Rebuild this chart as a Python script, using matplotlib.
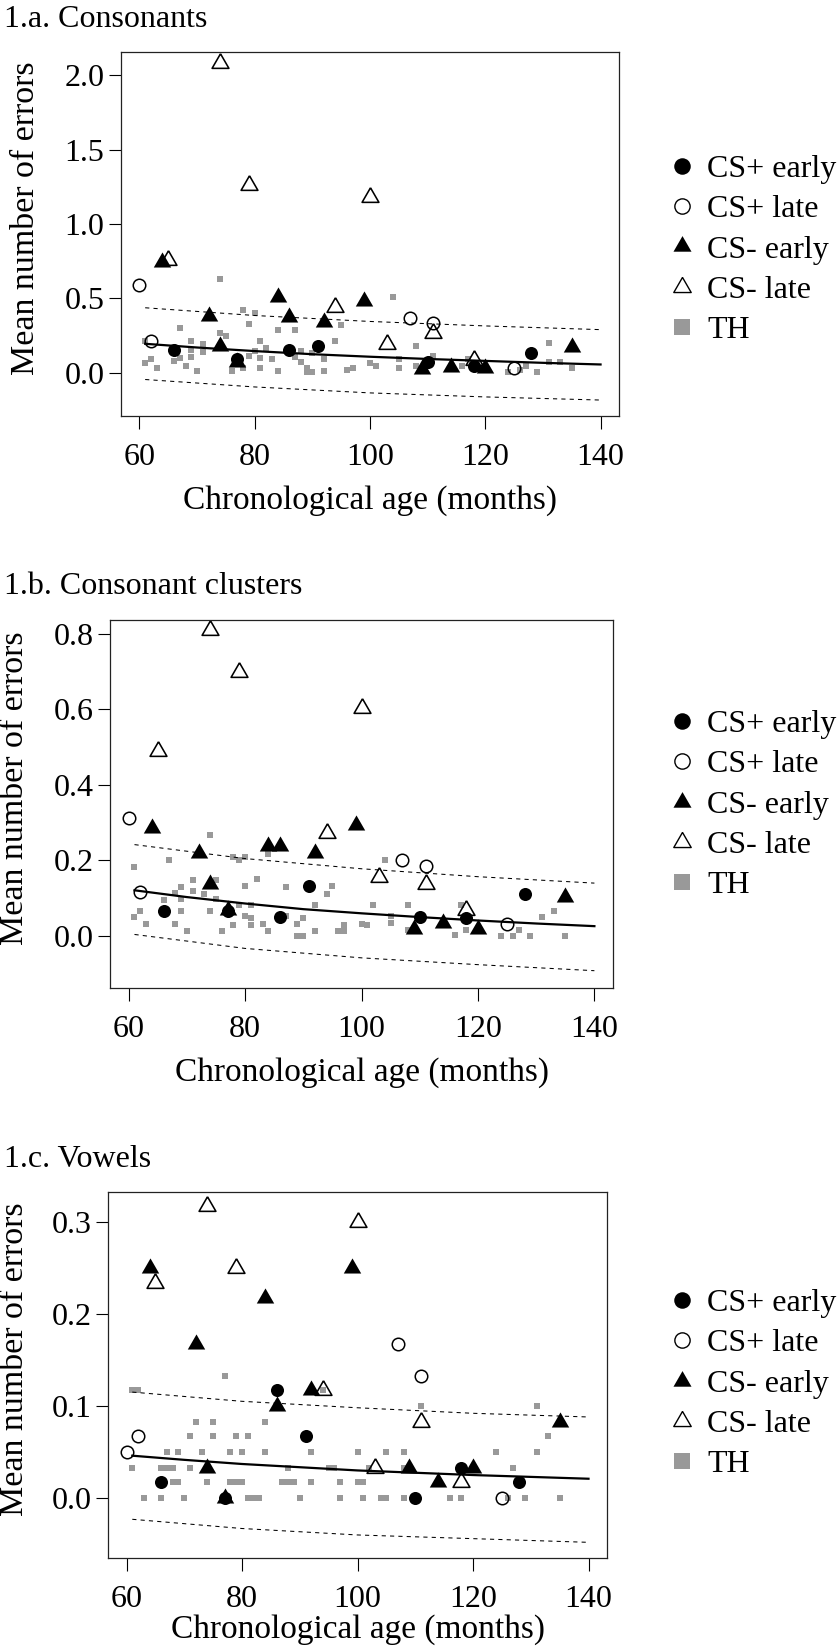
import numpy as np
import matplotlib.pyplot as plt
from matplotlib.lines import Line2D

plt.rcParams['font.family'] = ['Liberation Serif', 'DejaVu Serif']

# ages of the CS groups (same children in every panel)
csp_early_age = [66, 77, 86, 91, 110, 118, 128]
csp_late_age = [60, 62, 107, 111, 125]
csm_early_age = [64, 72, 74, 77, 84, 86, 92, 99, 109, 114, 120, 135]
csm_late_age = [65, 74, 79, 94, 100, 103, 111, 118]

# ---- 1.a consonants
cons_csp_early = [0.15, 0.095, 0.15, 0.18, 0.07, 0.045, 0.13]
cons_csp_late = [0.59, 0.215, 0.365, 0.335, 0.03]
cons_csm_early = [0.745, 0.38, 0.18, 0.075, 0.51, 0.375, 0.34, 0.485, 0.025, 0.04, 0.03, 0.175]
cons_csm_late = [0.76, 2.08, 1.26, 0.445, 1.18, 0.195, 0.265, 0.085]
cons_th_age = [74, 104, 78, 80, 79, 67, 84, 87, 95, 74, 75, 81, 94, 108, 131, 69, 71, 61,
               69, 71, 80, 82, 88, 90,
               62, 67, 69, 79, 81, 83, 87, 92, 100, 101, 105, 111, 117,
               61, 66, 68, 81, 88, 89, 96, 97, 108, 116, 131, 133, 135, 127,
               63, 70, 76, 78, 84, 89, 90, 92, 105, 124, 126, 129]
cons_th = [0.63, 0.51, 0.42, 0.405, 0.33, 0.30, 0.285, 0.29, 0.32, 0.265, 0.25, 0.215, 0.215, 0.18, 0.20, 0.215, 0.195, 0.215,
           0.15, 0.14, 0.145, 0.17, 0.145, 0.13,
           0.095, 0.10, 0.105, 0.115, 0.10, 0.095, 0.105, 0.09, 0.065, 0.045, 0.09, 0.115, 0.095,
           0.065, 0.08, 0.045, 0.035, 0.075, 0.035, 0.02, 0.03, 0.045, 0.045, 0.07, 0.07, 0.035, 0.045,
           0.035, 0.015, 0.01, 0.03, 0.01, 0.005, 0.005, 0.01, 0.035, 0.005, 0.02, 0.005]
fit_age = [61, 70, 80, 90, 100, 110, 120, 130, 140]
cons_fit = [0.195, 0.170, 0.146, 0.125, 0.108, 0.093, 0.080, 0.067, 0.056]
band_age = [61, 80, 100, 120, 140]
cons_hi = [0.437, 0.385, 0.345, 0.315, 0.29]
cons_lo = [-0.045, -0.095, -0.135, -0.162, -0.183]

# ---- 1.b consonant clusters
clus_csp_early = [0.065, 0.065, 0.049, 0.132, 0.049, 0.048, 0.112]
clus_csp_late = [0.313, 0.116, 0.20, 0.186, 0.032]
clus_csm_early = [0.286, 0.22, 0.138, 0.068, 0.237, 0.237, 0.22, 0.293, 0.019, 0.034, 0.019, 0.102]
clus_csm_late = [0.49, 0.81, 0.70, 0.273, 0.605, 0.155, 0.138, 0.07]
clus_th_age = [74, 104, 61, 67, 78, 80, 79, 84, 71, 69, 75, 80, 82, 87, 95, 94, 68, 71, 73,
               66, 69, 75, 79, 81, 92, 102, 108, 117, 62, 69, 74, 80, 81, 61, 87, 90, 105, 105,
               131, 133, 63, 68, 78, 81, 83, 89, 97, 100, 101, 127, 70, 76, 84, 92, 96, 97,
               116, 89, 90, 124, 126, 129, 135, 118, 108]
clus_th = [0.267, 0.202, 0.182, 0.20, 0.21, 0.21, 0.20, 0.218, 0.147, 0.129, 0.147, 0.132, 0.151, 0.129, 0.132, 0.111, 0.114, 0.118, 0.111,
           0.096, 0.099, 0.099, 0.083, 0.083, 0.081, 0.081, 0.081, 0.083, 0.067, 0.065, 0.065, 0.052, 0.048, 0.049, 0.052, 0.048, 0.052, 0.034,
           0.049, 0.065, 0.032, 0.032, 0.030, 0.030, 0.032, 0.032, 0.030, 0.032, 0.030, 0.017, 0.014, 0.014, 0.014, 0.014, 0.014, 0.014,
           0.002, 0.0, 0.0, 0.0, 0.0, 0.0, 0.0, 0.017, 0.017]
clus_fit = [0.121, 0.103, 0.086, 0.071, 0.060, 0.050, 0.041, 0.033, 0.026]
clus_hi = [0.242, 0.205, 0.178, 0.157, 0.14]
clus_lo = [0.004, -0.033, -0.058, -0.076, -0.092]

# ---- 1.c vowels
vow_csp_early = [0.017, 0.0, 0.117, 0.067, 0.0, 0.033, 0.017]
vow_csp_late = [0.05, 0.067, 0.167, 0.133, 0.0]
vow_csm_early = [0.25, 0.167, 0.033, 0.0, 0.217, 0.10, 0.117, 0.25, 0.033, 0.017, 0.033, 0.083]
vow_csm_late = [0.233, 0.317, 0.25, 0.117, 0.30, 0.033, 0.083, 0.017]
vow_th_age = [77, 61, 62, 94, 111, 131, 72, 75, 84, 71, 75, 79, 81, 133,
              67, 69, 73, 78, 80, 84, 92, 100, 105, 108, 124, 131,
              61, 66, 67, 68, 71, 88, 95, 96, 102, 108, 127,
              68, 69, 74, 78, 79, 80, 87, 88, 89, 92, 97, 100, 101,
              63, 66, 70, 77, 81, 82, 83, 90, 97, 101, 104, 105, 108, 116, 118, 126, 129, 135]
vow_th = [0.133, 0.117, 0.117, 0.117, 0.10, 0.10, 0.083, 0.083, 0.083, 0.067, 0.067, 0.067, 0.067, 0.067,
          0.05, 0.05, 0.05, 0.05, 0.05, 0.05, 0.05, 0.05, 0.05, 0.05, 0.05, 0.05,
          0.033, 0.033, 0.033, 0.033, 0.033, 0.033, 0.033, 0.033, 0.033, 0.033, 0.033,
          0.017, 0.017, 0.017, 0.017, 0.017, 0.017, 0.017, 0.017, 0.017, 0.017, 0.017, 0.017, 0.017,
          0, 0, 0, 0, 0, 0, 0, 0, 0, 0, 0, 0, 0, 0, 0, 0, 0, 0]
vow_fit = [0.046, 0.0415, 0.037, 0.0335, 0.030, 0.0275, 0.025, 0.023, 0.021]
vow_hi = [0.115, 0.105, 0.098, 0.092, 0.088]
vow_lo = [-0.023, -0.033, -0.040, -0.044, -0.048]

tri = [(0, 1), (-0.866, -0.5), (0.866, -0.5), (0, 1)]
grey = '#999999'

panels = [
    dict(title='1.a. Consonants', rect=[0.1440, 0.7482, 0.5929, 0.2203], ylim=(-0.29, 2.155),
         yt=[0, 0.5, 1.0, 1.5, 2.0], th=(cons_th_age, cons_th),
         g=(cons_csp_early, cons_csp_late, cons_csm_early, cons_csm_late),
         fit=cons_fit, hi=cons_hi, lo=cons_lo, ty=27, ly=250, ylx=-0.191, xly=69),
    dict(title='1.b. Consonant clusters', rect=[0.1310, 0.4019, 0.5988, 0.2228], ylim=(-0.138, 0.837),
         yt=[0, 0.2, 0.4, 0.6, 0.8], th=(clus_th_age, clus_th),
         g=(clus_csp_early, clus_csp_late, clus_csm_early, clus_csm_late),
         fit=clus_fit, hi=clus_hi, lo=clus_lo, ty=594, ly=805, ylx=-0.189, xly=69),
    dict(title='1.c. Vowels', rect=[0.1286, 0.0569, 0.5940, 0.2215], ylim=(-0.065, 0.332),
         yt=[0, 0.1, 0.2, 0.3], th=(vow_th_age, vow_th),
         g=(vow_csp_early, vow_csp_late, vow_csm_early, vow_csm_late),
         fit=vow_fit, hi=vow_hi, lo=vow_lo, ty=1167, ly=1384, ylx=-0.186, xly=56),
]

fig = plt.figure(figsize=(8.4, 16.52), dpi=100)
H = 1652.0

for p in panels:
    ax = fig.add_axes(p['rect'])
    ax.plot(p['th'][0], p['th'][1], ls='none', marker='s', ms=4.5, mfc=grey, mec=grey, mew=0)
    a, b, c, d = p['g']
    ax.plot(csp_early_age, a, ls='none', marker='o', ms=9.4, mfc='black', mec='black', mew=0)
    ax.plot(csp_late_age, b, ls='none', marker='o', ms=9.0, mfc='none', mec='black', mew=1.1)
    ax.plot(csm_early_age, c, ls='none', marker=tri, ms=14.5, mfc='black', mec='black', mew=0)
    ax.plot(csm_late_age, d, ls='none', marker=tri, ms=14, mfc='none', mec='black', mew=1.15)
    ax.plot(fit_age, p['fit'], color='black', lw=1.6)
    ax.plot(band_age, p['hi'], color='black', lw=0.75, dashes=(4, 4))
    ax.plot(band_age, p['lo'], color='black', lw=0.75, dashes=(4, 4))

    ax.set_xlim(56.8, 143.2)
    ax.set_ylim(*p['ylim'])
    ax.set_xticks([60, 80, 100, 120, 140])
    ax.set_yticks(p['yt'])
    ax.set_yticklabels(['%.1f' % v for v in p['yt']])
    ax.tick_params(direction='out', length=9, width=0.8, labelsize=23)
    ax.tick_params(axis='x', pad=10.5)
    ax.tick_params(axis='y', pad=3)
    for s in ax.spines.values():
        s.set_linewidth(0.9)
        s.set_color('#222222')

    h = p['rect'][3] * H
    ax.set_xlabel('Chronological age (months)', fontsize=24)
    ax.xaxis.set_label_coords(0.5, -p['xly'] / h)
    ax.set_ylabel('Mean number of errors', fontsize=24.5, va='center')
    ax.yaxis.set_label_coords(p['ylx'], 0.5 + 16 / h)

    fig.text(4 / 840, 1 - p['ty'] / H, p['title'], fontsize=23, va='baseline', ha='left')

    handles = [
        Line2D([], [], ls='none', marker='o', ms=11.9, mfc='black', mec='black', mew=0),
        Line2D([], [], ls='none', marker='o', ms=11.0, mfc='none', mec='black', mew=1.0),
        Line2D([], [], ls='none', marker=tri, ms=15, mfc='black', mec='black', mew=0),
        Line2D([], [], ls='none', marker=tri, ms=14.5, mfc='none', mec='black', mew=1.0),
        Line2D([], [], ls='none', marker='s', ms=11.2, mfc=grey, mec=grey, mew=0),
    ]
    labels = ['CS+ early', 'CS+ late', 'CS- early', 'CS- late', 'TH']
    fig.legend(handles, labels, loc='center left', bbox_to_anchor=(669 / 840, 1 - p['ly'] / H),
               bbox_transform=fig.transFigure, frameon=False, fontsize=23,
               handlelength=0.8, handletextpad=0.4, labelspacing=0.34,
               borderpad=0, borderaxespad=0)

fig.savefig('out.png', dpi=100)
